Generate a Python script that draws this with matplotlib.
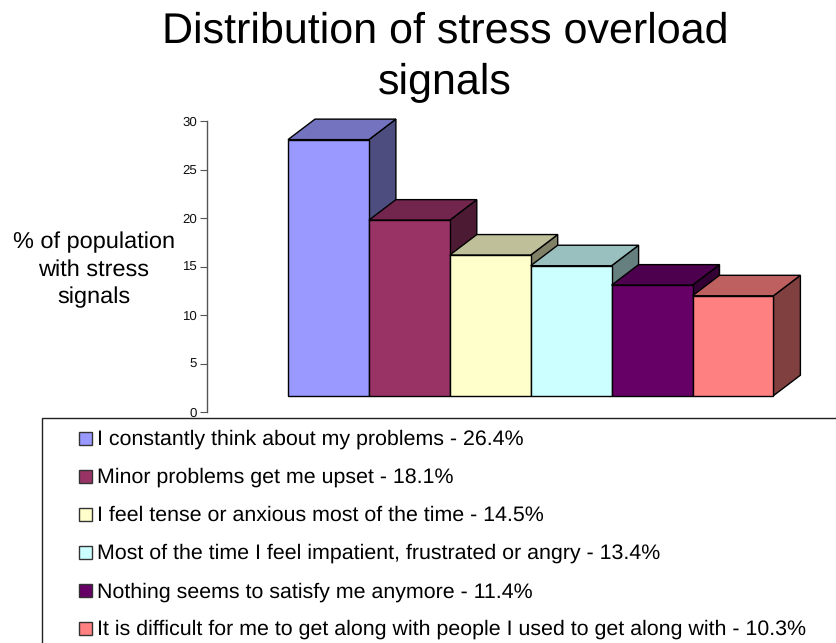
import matplotlib
matplotlib.use("Agg")
import matplotlib.pyplot as plt
from matplotlib.patches import Polygon, Rectangle
from matplotlib.colors import to_rgb

plt.rcParams['font.family'] = ['Liberation Sans', 'DejaVu Sans']
plt.rcParams['text.hinting'] = 'no_hinting'

labels = [
    "I constantly think about my problems - 26.4%",
    "Minor problems get me upset - 18.1%",
    "I feel tense or anxious most of the time - 14.5%",
    "Most of the time I feel impatient, frustrated or angry - 13.4%",
    "Nothing seems to satisfy me anymore - 11.4%",
    "It is difficult for me to get along with people I used to get along with - 10.3%",
]
values = [26.4, 18.1, 14.5, 13.4, 11.4, 10.3]
colors = ["#9999FF", "#993366", "#FFFFCC", "#CCFFFF", "#660066", "#FF8080"]
yticks = [0, 5, 10, 15, 20, 25, 30]

W, H = 836, 643
fig = plt.figure(figsize=(W / 100, H / 100), dpi=100, facecolor="white")

# overlay in pixel coordinates for title, y label and legend
ov = fig.add_axes([0, 0, 1, 1])
ov.set_xlim(0, W)
ov.set_ylim(H, 0)
ov.axis("off")

# plot axes
AX_L, AX_R, AX_T, AX_B = 207, 810, 121, 412
ax = fig.add_axes([AX_L / W, 1 - AX_B / H, (AX_R - AX_L) / W, (AX_B - AX_T) / H])
ax.patch.set_alpha(0)
BAR_W = 80.9
ax.set_xlim((AX_L - 288) / BAR_W, (AX_R - 288) / BAR_W)
ax.set_ylim(0, 30)
for s in ("top", "right", "bottom"):
    ax.spines[s].set_visible(False)
ax.spines["left"].set_color("#555555")
ax.spines["left"].set_linewidth(1.0)
ax.set_xticks([])
ax.set_yticks(yticks)
ax.tick_params(axis="y", length=5, width=0.8, color="#555555", labelsize=9.5, pad=2, labelcolor="#111111")

base = 1.68
ddx = 27 / BAR_W
ddy = 20.5 / 9.7


def shade(c, f):
    return tuple(v * f for v in to_rgb(c))


for i, (v, c) in enumerate(zip(values, colors)):
    x0, x1 = i, i + 1
    top = base + v
    kw = dict(edgecolor="#000000", linewidth=1.0, joinstyle="miter", clip_on=False)
    ax.add_patch(Polygon([(x1, base), (x1 + ddx, base + ddy), (x1 + ddx, top + ddy), (x1, top)],
                         facecolor=shade(c, 0.5), **kw))
    ax.add_patch(Polygon([(x0, top), (x0 + ddx, top + ddy), (x1 + ddx, top + ddy), (x1, top)],
                         facecolor=shade(c, 0.75), **kw))
    ax.add_patch(Polygon([(x0, base), (x1, base), (x1, top), (x0, top)],
                         facecolor=c, **kw))

# title
ov.text(445, 57, "Distribution of stress overload\nsignals", ha="center", va="center",
        fontsize=31.0, linespacing=1.36, color="black")

# y label
ov.text(94, 269.5, "% of population\nwith stress\nsignals", ha="center", va="center",
        fontsize=16.9, linespacing=1.37, color="black")

# legend
ov.add_patch(Rectangle((41.5, 417.5), 900, 400, facecolor="white", edgecolor="#222222",
                       linewidth=1.0, clip_on=True))
row_y = [438, 476, 514, 552, 590.5, 628]
for lab, c, y in zip(labels, colors, row_y):
    ov.add_patch(Rectangle((78.5, y - 6.5), 13, 13, facecolor=c, edgecolor="#333333", linewidth=1.0))
    ov.text(97, y + 1.5, lab, ha="left", va="center", fontsize=15.37, color="black")

fig.savefig("out.png", dpi=100)
